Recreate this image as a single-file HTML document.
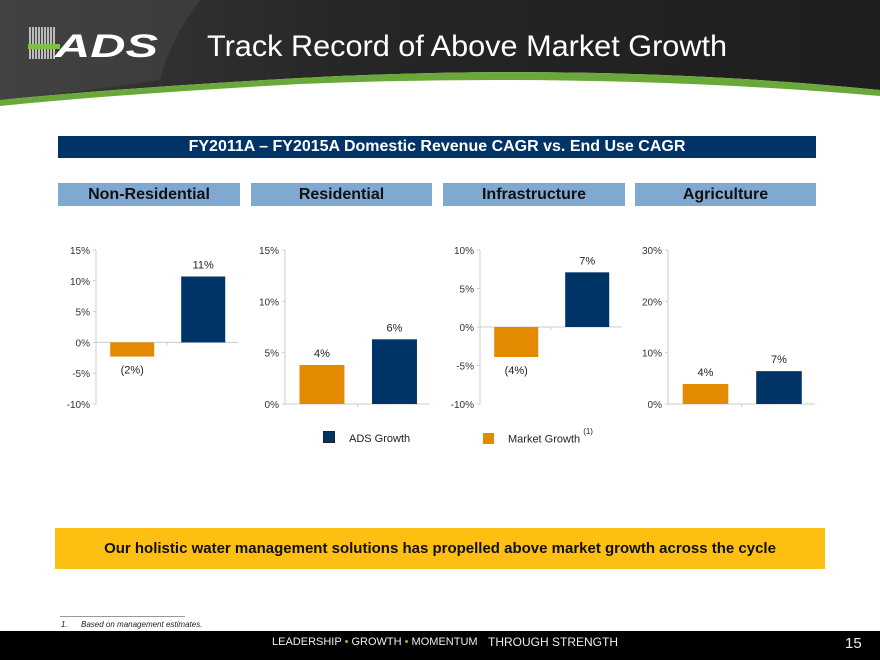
<!DOCTYPE html>
<html><head><meta charset="utf-8"><style>
body{margin:0;width:880px;height:660px;position:relative;overflow:hidden;background:#fff;font-family:"Liberation Sans",sans-serif}
.abs{position:absolute}
.sub{position:absolute;top:183px;height:23px;background:#80a9d2;color:#111;font-weight:bold;font-size:16px;text-align:center;line-height:23px}
</style></head><body>
<svg class="abs" style="left:0;top:0" width="880" height="110">
<defs><linearGradient id="g" x1="0" x2="1"><stop offset="0" stop-color="#3a3a3a"/><stop offset="0.4" stop-color="#262626"/><stop offset="1" stop-color="#1e1e1e"/></linearGradient></defs>
<path d="M0 0H880V90Q600 62 300 78Q120 88 0 100Z" fill="url(#g)"/>
<path d="M0 100Q120 88 300 78Q600 62 880 90V96Q600 72 300 84Q120 94 0 106Z" fill="#6aa83a"/>
<path d="M0 0H200Q170 40 160 80Q80 92 0 100Z" fill="#4a4a4a" opacity="0.5"/>
<g>
<g stroke="#fff" stroke-width="1.3">
<line x1="30" y1="27" x2="30" y2="59"/><line x1="33" y1="27" x2="33" y2="59"/><line x1="36" y1="27" x2="36" y2="59"/><line x1="39" y1="27" x2="39" y2="59"/><line x1="42" y1="27" x2="42" y2="59"/><line x1="45" y1="27" x2="45" y2="59"/><line x1="48" y1="27" x2="48" y2="59"/><line x1="51" y1="27" x2="51" y2="59"/><line x1="54" y1="27" x2="54" y2="59"/>
</g>
<rect x="28" y="44" width="32" height="5" fill="#7ac143"/>
<text x="55" y="57" font-size="32" font-weight="bold" fill="#fff" font-style="italic" font-family="Liberation Sans" textLength="103" lengthAdjust="spacingAndGlyphs">ADS</text>
</g>
<text x="207" y="56" font-size="30" fill="#fff" textLength="520" lengthAdjust="spacingAndGlyphs">Track Record of Above Market Growth</text>
</svg>
<div class="abs" style="left:58px;top:136px;width:758px;height:22px;background:#003366;color:#fff;font-weight:bold;font-size:16px;text-align:center;line-height:22px">FY2011A – FY2015A Domestic Revenue CAGR vs. End Use CAGR</div>
<div class="sub" style="left:58px;width:182px">Non-Residential</div>
<div class="sub" style="left:251px;width:181px">Residential</div>
<div class="sub" style="left:443px;width:182px">Infrastructure</div>
<div class="sub" style="left:635px;width:181px">Agriculture</div>
<svg id="ch" class="abs" style="left:0;top:0" width="880" height="460"></svg>
<div class="abs" style="left:323px;top:431px;font-size:11px;color:#222"><span style="display:inline-block;width:10px;height:10px;background:#003366;border:1px solid #222;vertical-align:-1px;margin-right:14px"></span>ADS Growth</div>
<div class="abs" style="left:483px;top:431px;font-size:11px;color:#222"><span style="display:inline-block;width:11px;height:11px;background:#e38a00;vertical-align:-1px;margin-right:14px"></span>Market Growth <sup style="font-size:8px;position:relative;top:-4px">(1)</sup></div>
<div class="abs" style="left:55px;top:528px;width:770px;height:41px;background:#fdbf12;font-weight:bold;font-size:15px;text-align:center;line-height:41px;color:#111">Our holistic water management solutions has propelled above market growth across the cycle</div>
<div class="abs" style="left:60px;top:616px;width:125px;border-top:1px solid #999"></div>
<div class="abs" style="left:61px;top:620px;font-size:8px;font-style:italic;color:#222">1.&nbsp;&nbsp;&nbsp;&nbsp;&nbsp;&nbsp;Based on management estimates.</div>
<div class="abs" style="left:0;top:631px;width:880px;height:29px;background:#000;color:#eee;font-size:11px">
<span class="abs" style="left:272px;top:5px">LEADERSHIP <span style="color:#7ac143">•</span> GROWTH <span style="color:#7ac143">•</span> MOMENTUM</span>
<span class="abs" style="left:488px;top:4px;font-size:12px">THROUGH STRENGTH</span>
<span class="abs" style="left:845px;top:4px;font-size:15px">15</span></div>
<script>
const categories=["Non-Residential","Residential","Infrastructure","Agriculture"];
const marketValues=[-2.3,3.8,-3.9,3.9];
const adsValues=[10.7,6.3,7.1,6.4];
const marketLabels=["(2%)","4%","(4%)","4%"];
const adsLabels=["11%","6%","7%","7%"];
const axisMin=[-10,0,-10,0];
const axisMax=[15,15,10,30];
const axisStep=[5,5,5,10];
const layout=[{x:96,w:142},{x:285,w:145},{x:480,w:142},{x:668,w:147}];
const top0=250,bot0=404;
const svg=document.getElementById('ch');const NS='http://www.w3.org/2000/svg';
function mk(t,a){const e=document.createElementNS(NS,t);for(const k in a)e.setAttribute(k,a[k]);svg.appendChild(e);return e;}
categories.forEach((c,i)=>{
 const L=layout[i];
 const y=v=>bot0-(v-axisMin[i])/(axisMax[i]-axisMin[i])*(bot0-top0);
 const ax=mk('line',{x1:L.x,x2:L.x,y1:top0,y2:bot0,stroke:'#ccc'});
 
 for(let v=axisMin[i];v<=axisMax[i]+1e-9;v+=axisStep[i]){
  const t=mk('text',{x:L.x-6,y:y(v)+4,'text-anchor':'end','font-size':10,fill:'#333'});t.textContent=v+'%';
  
  mk('line',{x1:L.x-3,x2:L.x,y1:y(v),y2:y(v),stroke:'#ccc'});
 }
 const z=y(0);
 mk('line',{x1:L.x,x2:L.x+L.w,y1:z,y2:z,stroke:'#ccc'});
 mk('line',{x1:L.x+L.w/2,x2:L.x+L.w/2,y1:z,y2:z+3,stroke:'#ccc'});
 const bw=L.w*0.31;
 [[marketValues[i],'#e38a00',marketLabels[i],L.x+L.w*0.1,'market'],[adsValues[i],'#003366',adsLabels[i],L.x+L.w*0.6,'ads']].forEach(s=>{
  const v=s[0],yy=y(v);
  const r=mk('rect',{x:s[3],y:Math.min(yy,z),width:bw,height:Math.abs(z-yy),fill:s[1]});
  
  const ly=v>=0?yy-8:yy+17;
  const t=mk('text',{x:s[3]+bw/2,y:ly,'text-anchor':'middle','font-size':11,fill:'#222'});t.textContent=s[2];
  
 });
});
</script>
</body></html>
